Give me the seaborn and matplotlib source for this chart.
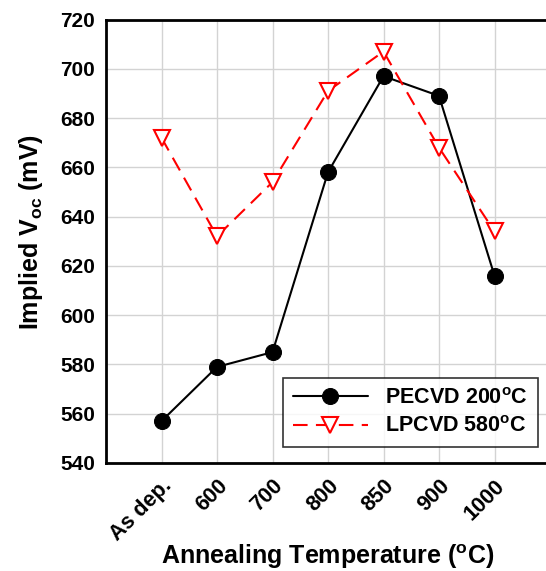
import matplotlib
matplotlib.use("Agg")
import matplotlib.pyplot as plt
import seaborn as sns
import pandas as pd

categories = ["As dep.", "600", "700", "800", "850", "900", "1000"]
pecvd = [557, 579, 585, 658, 697, 689, 616]
lpcvd = [672, 632, 654, 691, 707, 668, 634]
series_names = ["PECVD 200$^{\\mathrm{o}}$C", "LPCVD 580$^{\\mathrm{o}}$C"]
yticks = [540, 560, 580, 600, 620, 640, 660, 680, 700, 720]

sns.set_style("white")
plt.rcParams["font.family"] = ["Liberation Sans", "DejaVu Sans"]
plt.rcParams["font.weight"] = "bold"
plt.rcParams["text.color"] = "black"
plt.rcParams["axes.labelcolor"] = "black"
plt.rcParams["xtick.color"] = "black"
plt.rcParams["ytick.color"] = "black"
plt.rcParams["mathtext.fontset"] = "custom"
plt.rcParams["mathtext.rm"] = "Liberation Sans:bold"
plt.rcParams["mathtext.it"] = "Liberation Sans:bold"
plt.rcParams["mathtext.bf"] = "Liberation Sans:bold"

df1 = pd.DataFrame({"cat": categories, "v": pecvd})
df2 = pd.DataFrame({"cat": categories, "v": lpcvd})

fig = plt.figure(figsize=(5.46, 5.71), dpi=100)
W, H = 546, 571
left, right, top, bottom = 106, 550, 19.5, 463
ax = fig.add_axes([left / W, 1 - bottom / H, (right - left) / W, (bottom - top) / H])

sns.lineplot(data=df1, x="cat", y="v", sort=False, ax=ax, color="black", lw=1.5,
             marker="o", markersize=11.5, markerfacecolor="black", markeredgecolor="black",
             label=series_names[0])
sns.lineplot(data=df2, x="cat", y="v", sort=False, ax=ax, color="red", lw=1.5,
             marker="v", markersize=11, markerfacecolor="white", markeredgecolor="red",
             markeredgewidth=1.5, dashes=False, label=series_names[1])
ax.lines[1].set_dashes([7, 4])

ax.set_xlim(-1, 7)
ax.set_ylim(540, 720)
ax.set_yticks(yticks)
ax.set_yticklabels([str(t) for t in yticks], fontsize=15, fontweight="bold")
ax.set_xticks(range(len(categories)))
ax.set_xticklabels(categories, rotation=45, ha="right", rotation_mode="anchor",
                   fontsize=15.5, fontweight="bold")
ax.tick_params(axis="both", direction="in", length=4, width=1, colors="black", pad=8)
ax.tick_params(axis="x", pad=9)

ax.grid(True, color="#d3d3d3", lw=1)
ax.set_axisbelow(True)
for s in ["left", "top", "bottom"]:
    ax.spines[s].set_linewidth(2)
    ax.spines[s].set_color("black")
ax.spines["right"].set_visible(False)

ax.set_xlabel("Annealing Temperature ($^{\\mathrm{o}}$C)", fontsize=18, fontweight="bold")
ax.xaxis.set_label_coords((327.5 - left) / (right - left), (bottom - 542) / (bottom - top))
ax.set_ylabel("Implied V$_{\\mathrm{oc}}$ (mV)", fontsize=18, fontweight="bold")
ax.yaxis.label.set_va("center")
ax.yaxis.set_label_coords((31 - left) / (right - left), (bottom - 232) / (bottom - top))

leg = ax.legend(loc="lower left", bbox_to_anchor=((283 - left) / (right - left), (463 - 447) / (bottom - top)),
                fontsize=15.5, frameon=True, fancybox=False, handlelength=3.5, borderpad=0.45,
                labelspacing=0.35, handletextpad=0.8, borderaxespad=0)
leg.get_frame().set_edgecolor("black")
leg.get_frame().set_linewidth(1.2)
for t in leg.get_texts():
    t.set_fontweight("bold")

fig.savefig("out.png", dpi=100)
